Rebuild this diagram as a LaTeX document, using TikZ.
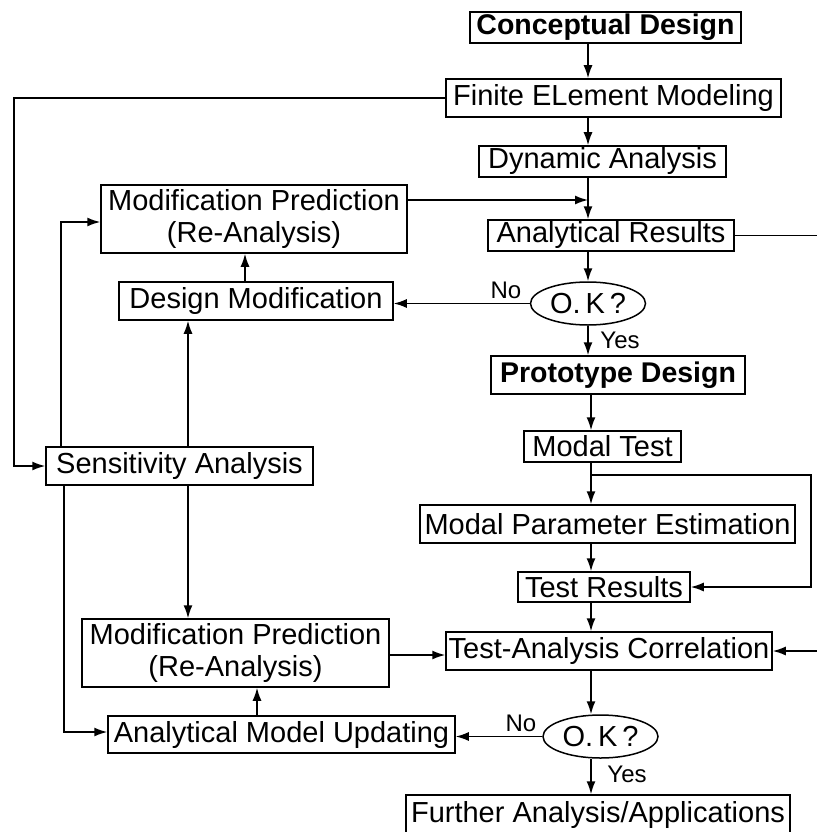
\documentclass[tikz,border=0pt]{standalone}
\usepackage{fontspec}
\setmainfont{Liberation Sans}
\usetikzlibrary{arrows.meta,shapes.geometric}
\begin{document}
\begin{tikzpicture}[x=1pt,y=-1pt,
  box/.style={draw, line width=1.5pt, rectangle, inner sep=0pt, align=center,
              font=\fontsize{29}{32}\selectfont},
  boldbox/.style={box, font=\fontsize{28.5}{32}\selectfont\bfseries},
  sz/.style 2 args={minimum width=#1pt, minimum height=#2pt},
  okell/.style={draw, line width=1.5pt, ellipse, inner sep=0pt,
                minimum width=115pt, minimum height=43pt,
                font=\fontsize{29}{32}\selectfont},
  lbl/.style={font=\fontsize{24}{28}\selectfont, inner sep=0pt},
  arr/.style={line width=1.5pt, -{Latex[length=13pt,width=9pt]}}]
\useasboundingbox (0,0) rectangle (816,832);

% right column
\node[boldbox, sz={271}{31}] (cd)  at (605.5,27.5) {Conceptual Design};
\node[box, sz={335}{38}]     (fem) at (613.5,98)   {Finite ELement Modeling};
\node[box, sz={247}{31}]     (da)  at (602.5,161.5) {Dynamic Analysis};
\node[box, sz={246}{31}]     (ar)  at (611,235.5)  {Analytical Results};
\node[okell]                 (ok1) at (588,303.5) {O.\,K\,?};
\node[boldbox, sz={254}{38}] (pd)  at (618,375)    {Prototype Design};
\node[box, sz={157}{31}]     (mt)  at (602.5,446.5) {Modal Test};
\node[box, sz={375}{38}]     (mpe) at (607.5,524)  {Modal Parameter Estimation};
\node[box, sz={172}{30}]     (tr)  at (604,587)    {Test Results};
\node[box, sz={326}{38}]     (tac) at (609,651)    {Test-Analysis Correlation};
\node[okell]                 (ok2) at (600.5,736.5) {O.\,K\,?};
\node[box, sz={384}{40}]     (faa) at (598,815)    {Further Analysis/Applications};

% left column
\node[box, sz={306}{68}] (mp1) at (254,219)   {Modification Prediction\\(Re-Analysis)};
\node[box, sz={274}{38}] (dm)  at (256,301)   {Design Modification};
\node[box, sz={267}{38}] (sa)  at (179.5,466) {Sensitivity Analysis};
\node[box, sz={307}{68}] (mp2) at (235.5,653) {Modification Prediction\\(Re-Analysis)};
\node[box, sz={347}{37}] (amu) at (281.5,734.5) {Analytical Model Updating};

% helper coordinates
\coordinate (sp1) at (588,0);
\coordinate (sp2) at (591,0);
\coordinate (j1)  at (588,200);
\coordinate (b1)  at (591,475);
\coordinate (rb)  at (811,475);
\coordinate (re)  at (818,0);
\coordinate (le)  at (14,0);
\coordinate (c61) at (61,222);
\coordinate (c64) at (64,732);
\coordinate (c188) at (188,0);
\coordinate (c245) at (245,0);
\coordinate (c257) at (257,0);
\coordinate (c655) at (0,655);

% main spine
\draw[arr] (cd.south -| sp1) -- (fem.north -| sp1);
\draw[arr] (fem.south -| sp1) -- (da.north -| sp1);
\draw[arr] (da.south -| sp1) -- (ar.north -| sp1);
\draw[arr] (mp1.east |- j1) -- (j1);
\draw[arr] (ar.south -| sp1) -- (ok1.north);
\draw[arr] (ok1.west) -- (dm.east |- ok1.west);
\node[lbl] (no1) at (506,290) {No};
\draw[arr] (ok1.south) -- (pd.north -| ok1.south);
\node[lbl] (yes1) at (620,340) {Yes};
\draw[arr] (pd.south -| sp2) -- (mt.north -| sp2);
\draw[arr] (mt.south -| sp2) -- (mpe.north -| sp2);
\draw[arr] (b1) -- (rb) |- (tr.east);
\draw[arr] (mpe.south -| sp2) -- (tr.north -| sp2);
\draw[arr] (tr.south -| sp2) -- (tac.north -| sp2);
\draw[arr] (tac.south -| sp2) -- (ok2.north -| sp2);
\draw[arr] (ok2.west) -- (amu.east |- ok2.west);
\node[lbl] (no2) at (521,723) {No};
\draw[arr] (ok2.south -| sp2) -- (faa.north -| sp2);
\node[lbl] (yes2) at (627,774) {Yes};

% right loop (runs off the page edge)
\draw[arr] (ar.east) -- (ar.east -| re) |- (tac.east);

% left loops
\draw[arr] (fem.west) -- (fem.west -| le) |- (sa.west);
\draw[arr] (sa.north -| c61) -- (c61) -- (mp1.west |- c61);
\draw[arr] (sa.north -| c188) -- (dm.south -| c188);
\draw[arr] (dm.north -| c245) -- (mp1.south -| c245);
\draw[arr] (sa.south -| c188) -- (mp2.north -| c188);
\draw[arr] (sa.south -| c64) -- (c64) -- (amu.west |- c64);
\draw[arr] (amu.north -| c257) -- (mp2.south -| c257);
\draw[arr] (mp2.east |- c655) -- (tac.west |- c655);
\end{tikzpicture}
\end{document}
